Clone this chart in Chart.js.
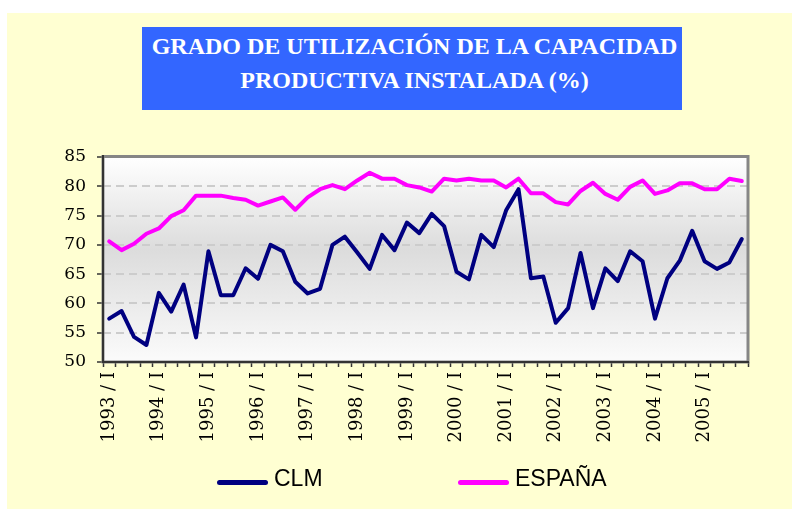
<!DOCTYPE html>
<html>
<head>
<meta charset="utf-8">
<script src="https://cdn.jsdelivr.net/npm/chart.js@4"></script>
<style>
  html, body { margin: 0; padding: 0; background: #ffffff; }
  #wrap { position: relative; width: 803px; height: 516px; overflow: hidden; }
  #bg { position: absolute; left: 7px; top: 13px; width: 785px; height: 496px; background: #FFFFD2; }
  #title { position: absolute; left: 142px; top: 27px; width: 535px; height: 83px; padding-left: 5px;
           background: #3366FF; color: #ffffff; font-family: "Liberation Serif", "Times New Roman", serif;
           font-weight: bold; font-size: 24px; line-height: 34px; text-align: center; white-space: nowrap;
           overflow: hidden; padding-top: 2px; box-sizing: content-box; height: 81px; }
  canvas#c { position: absolute; left: 0; top: 0; }
  .lg-line { position: absolute; height: 5px; border-radius: 2.5px; top: 479.5px; width: 51px; }
  .lg-text { position: absolute; top: 466.5px; font-family: "Liberation Sans", Arial, sans-serif; font-size: 23px; line-height: 23px; color: #000; white-space: nowrap; }
</style>
</head>
<body>
<div id="wrap">
  <div id="bg"></div>
  <div id="title">GRADO DE UTILIZACIÓN DE LA CAPACIDAD<br>PRODUCTIVA INSTALADA (%)</div>
  <canvas id="c" width="803" height="516"></canvas>
  <div class="lg-line" style="left:217px;background:#000080"></div>
  <div class="lg-text" style="left:274px">CLM</div>
  <div class="lg-line" style="left:458px;background:#FF00FF"></div>
  <div class="lg-text" style="left:515px">ESPAÑA</div>
</div>
<script>
// ---- data ----
const years = [1993, 1994, 1995, 1996, 1997, 1998, 1999, 2000, 2001, 2002, 2003, 2004, 2005];
const quarters = ["I", "II", "III", "IV"];
const clm = [57.4, 58.7, 54.3, 52.9, 61.8, 58.6, 63.2, 54.2, 68.9, 61.4, 61.4, 66.0, 64.2, 70.0, 68.9, 63.7, 61.7, 62.5,
             70.0, 71.4, 68.7, 65.9, 71.7, 69.1, 73.8, 72.0, 75.3, 73.2, 65.4, 64.1, 71.7, 69.6, 75.9, 79.5, 64.3, 64.6, 56.7,
             59.2, 68.6, 59.2, 66.0, 63.8, 68.9, 67.2, 57.4, 64.3, 67.3, 72.4, 67.2, 65.9, 67.0, 71.0];
const espana = [70.6, 69.1, 70.2, 71.9, 72.8, 74.9, 75.9, 78.4, 78.4, 78.4, 78.0, 77.7, 76.7, 77.4, 78.1, 76.0, 78.1, 79.5,
                80.2, 79.5, 81.0, 82.3, 81.3, 81.3, 80.2, 79.8, 79.1, 81.3, 81.0, 81.3, 81.0, 81.0, 79.8, 81.3, 78.8, 78.8, 77.3,
                76.9, 79.2, 80.6, 78.7, 77.7, 79.9, 81.0, 78.7, 79.3, 80.5, 80.5, 79.5, 79.5, 81.3, 80.9];
const yTicks = [50, 55, 60, 65, 70, 75, 80, 85];

const categories = [];
years.forEach(y => quarters.forEach(q => categories.push(y + " / " + q)));

const plotDecor = {
  id: 'plotDecor',
  beforeDraw(chart) {
    const {ctx, chartArea: a} = chart;
    ctx.save();
    const g = ctx.createLinearGradient(0, a.top, 0, a.bottom);
    g.addColorStop(0, '#ffffff');
    g.addColorStop(0.45, '#dcdcdc');
    g.addColorStop(1, '#fbfbfb');
    ctx.fillStyle = g;
    ctx.fillRect(a.left, a.top, a.right - a.left, a.bottom - a.top);
    ctx.restore();
  },
  beforeDatasetsDraw(chart) {
    const {ctx, chartArea: a} = chart;
    ctx.save();
    ctx.strokeStyle = '#868686';
    ctx.lineWidth = 3;
    ctx.strokeRect(a.left, a.top - 0.5, a.right - a.left, a.bottom - a.top + 0.5);
    ctx.strokeStyle = '#333333';
    ctx.lineWidth = 2;
    ctx.beginPath();
    ctx.moveTo(a.left, a.top - 2);
    ctx.lineTo(a.left, a.bottom);
    ctx.lineTo(a.right + 1, a.bottom);
    ctx.stroke();
    ctx.restore();
  }
};

new Chart(document.getElementById('c'), {
  type: 'line',
  data: {
    labels: categories,
    datasets: [
      { label: 'CLM', data: clm, borderColor: '#000080', backgroundColor: '#000080', borderWidth: 4,
        pointRadius: 0, tension: 0, borderJoinStyle: 'round', borderCapStyle: 'round' },
      { label: 'ESPAÑA', data: espana, borderColor: '#FF00FF', backgroundColor: '#FF00FF', borderWidth: 4,
        pointRadius: 0, tension: 0, borderJoinStyle: 'round', borderCapStyle: 'round' }
    ]
  },
  options: {
    responsive: false,
    animation: false,
    layout: { padding: { left: 0, top: 157, right: 55, bottom: 0 } },
    plugins: { legend: { display: false }, title: { display: false }, tooltip: { enabled: false } },
    scales: {
      x: {
        type: 'category',
        offset: true,
        afterFit: s => { s.height = 154; },
        grid: { display: true, offset: true, drawOnChartArea: false, drawTicks: true, tickLength: 5,
                tickColor: '#333333', tickWidth: 1.5 },
        border: { display: false },
        ticks: {
          autoSkip: false, minRotation: 90, maxRotation: 90, padding: 5, color: '#000',
          font: { family: 'DejaVu Serif', size: 18 },
          callback: function(v, i) { const l = this.getLabelForValue(v); return l.endsWith(' / I') ? l : ''; }
        }
      },
      y: {
        min: 50, max: 85,
        afterFit: s => { s.width = 103; },
        afterBuildTicks: s => { s.ticks = yTicks.map(v => ({ value: v })); },
        grid: {
          color: c => (c.tick && (c.tick.value === 50 || c.tick.value === 85)) ? 'rgba(0,0,0,0)' : '#cccccc',
          lineWidth: 2, tickLength: 6, tickColor: '#333333', tickWidth: 1.5, tickBorderDash: []
        },
        border: { display: true, width: 0, dash: [8, 5] },
        ticks: { padding: 11, color: '#000', font: { family: 'DejaVu Serif', size: 17 } }
      }
    }
  },
  plugins: [plotDecor]
});
</script>
</body>
</html>
